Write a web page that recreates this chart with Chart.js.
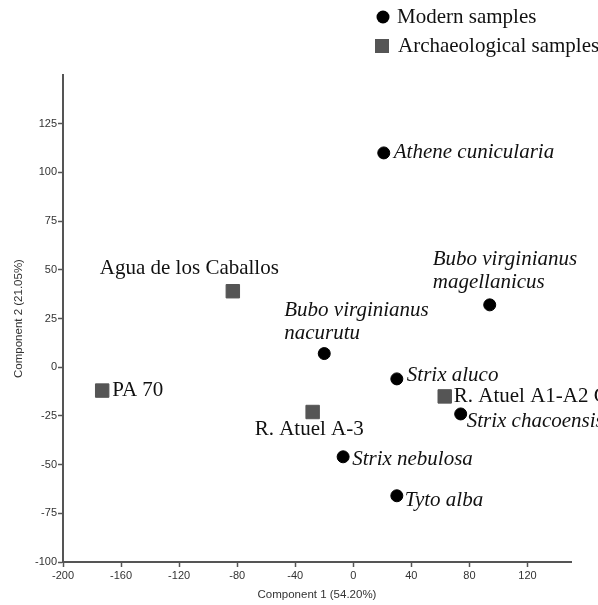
<!DOCTYPE html>
<html>
<head>
<meta charset="utf-8">
<script src="https://cdn.jsdelivr.net/npm/chart.js@4.4.0/dist/chart.umd.min.js"></script>
<style>
  html, body { margin: 0; padding: 0; background: #fff; }
  #wrap { width: 598px; height: 605px; }
</style>
</head>
<body>
<div id="wrap"><canvas id="myChart" width="598" height="605"></canvas></div>
<script>
// modern samples (species names are italic)
const modernNames = [
    ['Athene cunicularia'],
    ['Bubo virginianus', 'magellanicus'],
    ['Bubo virginianus', 'nacurutu'],
    ['Strix aluco'],
    ['Strix chacoensis'],
    ['Strix nebulosa'],
    ['Tyto alba']
];
const modernX = [21, 94, -20, 30, 74, -7, 30];
const modernY = [110, 32, 7, -6, -24, -46, -66];

// archaeological samples
const archNames = [['Agua de los Caballos'], ['PA 70'], ['R. Atuel A-3'], ['R. Atuel A1-A2 G']];
const archX = [-83, -173, -28, 63];
const archY = [39, -12, -23, -15];

const xTicks = [-200, -160, -120, -80, -40, 0, 40, 80, 120];
const yTicks = [-100, -75, -50, -25, 0, 25, 50, 75, 100, 125];

// label placement, pixels from the point: [dx, dy of first line]
const modernLabelPos = [[10, 0], [-57, -45], [-40, -43], [10, -3], [6, 8], [9, 3], [8, 5]];
const archLabelPos = [[-133, -23], [10, 0], [-58, 17], [9, 0]];

const serif = '"Liberation Serif", "Times New Roman", serif';
const sans = '"Liberation Sans", Arial, sans-serif';

const pointLabels = {
    id: 'pointLabels',
    afterDraw(chart) {
        const ctx = chart.ctx;
        const xs = chart.scales.x, ys = chart.scales.y;
        ctx.save();
        ctx.fillStyle = '#111';
        ctx.textBaseline = 'middle';
        ctx.textAlign = 'left';

        function put(names, xv, yv, pos, italic) {
            ctx.font = (italic ? 'italic ' : '') + '21px ' + serif;
            names.forEach((lines, i) => {
                const px = xs.getPixelForValue(xv[i]);
                const py = ys.getPixelForValue(yv[i]);
                lines.forEach((t, j) => {
                    ctx.fillText(t, px + pos[i][0], py + pos[i][1] + j * 23);
                });
            });
        }
        put(modernNames, modernX, modernY, modernLabelPos, true);
        put(archNames, archX, archY, archLabelPos, false);

        // legend
        ctx.font = '21px ' + serif;
        ctx.fillStyle = '#000';
        ctx.beginPath();
        ctx.arc(383, 17, 6.5, 0, Math.PI * 2);
        ctx.fill();
        ctx.fillStyle = '#111';
        ctx.fillText('Modern samples', 397, 17);
        ctx.fillStyle = '#555';
        ctx.fillRect(375, 39, 14, 14);
        ctx.fillStyle = '#111';
        ctx.fillText('Archaeological samples', 398, 46);
        ctx.restore();
    }
};

const ctx = document.getElementById('myChart').getContext('2d');
const myChart = new Chart(ctx, {
    type: 'scatter',
    data: {
        datasets: [{
            label: 'Modern samples',
            data: modernX.map((x, i) => ({x: x, y: modernY[i]})),
            pointStyle: 'circle',
            pointRadius: 6,
            backgroundColor: '#000',
            borderColor: '#000',
            borderWidth: 1
        }, {
            label: 'Archaeological samples',
            data: archX.map((x, i) => ({x: x, y: archY[i]})),
            pointStyle: 'rect',
            pointRadius: 9.5,
            backgroundColor: '#555',
            borderColor: '#555',
            borderWidth: 1
        }]
    },
    options: {
        responsive: false,
        animation: false,
        layout: { padding: { top: 75, right: 27, left: 0, bottom: 0 } },
        plugins: {
            legend: { display: false },
            tooltip: { enabled: false }
        },
        scales: {
            x: {
                type: 'linear',
                min: -200,
                max: 150,
                afterBuildTicks: (s) => { s.ticks = xTicks.map(v => ({value: v})); },
                afterFit: (s) => { s.height = 43; },
                ticks: { font: { family: sans, size: 11 }, color: '#333', padding: 2, maxRotation: 0 },
                grid: { drawOnChartArea: false, tickLength: 5, color: '#555', tickWidth: 1.5 },
                border: { color: '#555', width: 2 },
                title: { display: true, text: 'Component 1 (54.20%)', font: { family: sans, size: 11.5 }, color: '#333', padding: { top: 0, bottom: 3 } }
            },
            y: {
                type: 'linear',
                min: -100,
                max: 150,
                afterBuildTicks: (s) => { s.ticks = yTicks.map(v => ({value: v})); },
                afterFit: (s) => { s.width = 63; },
                ticks: { font: { family: sans, size: 11 }, color: '#333', padding: 1 },
                grid: { drawOnChartArea: false, tickLength: 5, color: '#555', tickWidth: 1.5 },
                border: { color: '#555', width: 2 },
                title: { display: true, text: 'Component 2 (21.05%)', font: { family: sans, size: 11.5 }, color: '#333', padding: { top: 12, bottom: 0 } }
            }
        }
    },
    plugins: [pointLabels]
});
</script>
</body>
</html>
